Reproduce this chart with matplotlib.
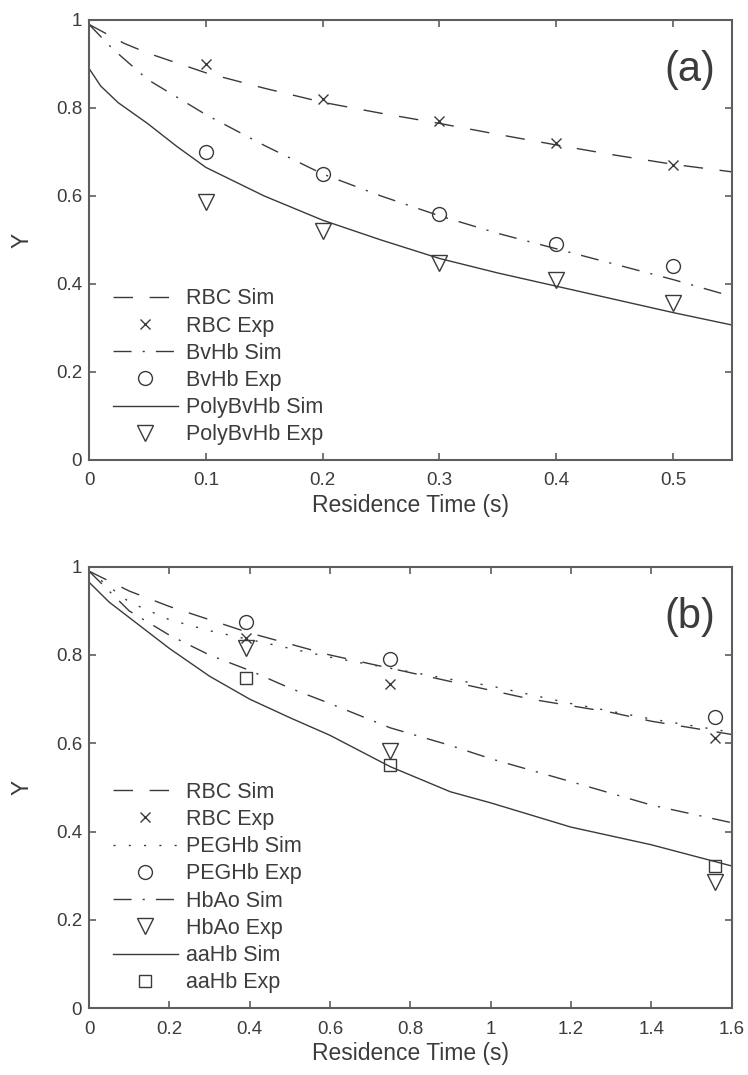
import matplotlib
matplotlib.use("Agg")
import matplotlib.pyplot as plt

plt.rcParams['font.family'] = ['Liberation Sans', 'DejaVu Sans']

INK = '#3a3a3a'
AXC = '#5e5e5e'
TXT = '#3c3c3c'

# ---- panel (a) ----
a_exp_t = [0.1, 0.2, 0.3, 0.4, 0.5]
a_rbc_exp = [0.90, 0.82, 0.77, 0.72, 0.67]
a_bvhb_exp = [0.70, 0.65, 0.56, 0.49, 0.44]
a_poly_exp = [0.587, 0.52, 0.447, 0.408, 0.356]

a_rbc_sim_t = [0, 0.03, 0.05, 0.1, 0.15, 0.2, 0.25, 0.3, 0.35, 0.4, 0.45, 0.5, 0.55]
a_rbc_sim = [0.99, 0.947, 0.925, 0.88, 0.845, 0.813, 0.788, 0.765, 0.74, 0.716, 0.693, 0.672, 0.655]

a_bvhb_sim_t = [0, 0.02, 0.05, 0.1, 0.15, 0.2, 0.25, 0.3, 0.35, 0.4, 0.45, 0.5, 0.55]
a_bvhb_sim = [0.99, 0.935, 0.865, 0.785, 0.715, 0.65, 0.60, 0.555, 0.515, 0.48, 0.445, 0.41, 0.372]

a_poly_sim_t = [0, 0.01, 0.025, 0.05, 0.075, 0.1, 0.15, 0.2, 0.25, 0.3, 0.35, 0.4, 0.45, 0.5, 0.55]
a_poly_sim = [0.89, 0.85, 0.812, 0.765, 0.713, 0.665, 0.60, 0.545, 0.50, 0.458, 0.425, 0.395, 0.365, 0.335, 0.307]

# ---- panel (b) ----
b_exp_t = [0.39, 0.75, 1.56]
b_rbc_exp = [0.838, 0.734, 0.611]
b_peg_exp = [0.875, 0.792, 0.66]
b_hbao_exp = [0.815, 0.583, 0.286]
b_aahb_exp = [0.747, 0.551, 0.322]

b_rbc_sim_t = [0, 0.1, 0.2, 0.3, 0.4, 0.5, 0.6, 0.7, 0.8, 0.9, 1.0, 1.1, 1.2, 1.3, 1.4, 1.5, 1.6]
b_rbc_sim = [0.99, 0.945, 0.91, 0.88, 0.85, 0.825, 0.80, 0.78, 0.76, 0.74, 0.72, 0.70, 0.685, 0.67, 0.65, 0.635, 0.62]

b_peg_sim_t = [0, 0.1, 0.2, 0.3, 0.4, 0.5, 0.6, 0.75, 0.9, 1.0, 1.2, 1.4, 1.6]
b_peg_sim = [0.99, 0.92, 0.88, 0.855, 0.835, 0.815, 0.795, 0.77, 0.745, 0.73, 0.69, 0.655, 0.625]

b_hbao_sim_t = [0, 0.1, 0.2, 0.3, 0.4, 0.5, 0.6, 0.75, 0.9, 1.0, 1.2, 1.4, 1.6]
b_hbao_sim = [0.99, 0.90, 0.845, 0.80, 0.765, 0.725, 0.69, 0.635, 0.595, 0.565, 0.513, 0.46, 0.42]

b_aahb_sim_t = [0, 0.05, 0.1, 0.2, 0.3, 0.4, 0.5, 0.6, 0.75, 0.9, 1.0, 1.2, 1.4, 1.6]
b_aahb_sim = [0.965, 0.92, 0.885, 0.815, 0.752, 0.70, 0.658, 0.618, 0.547, 0.49, 0.465, 0.41, 0.37, 0.322]

DASH = (0, (14, 12))
DASHDOT = (0, (13, 8, 1.5, 8))
DOT = (0, (1.5, 9.5))


def style_axes(ax, xmax, xticks, xticklabels, tag):
    ax.set_xlim(0, xmax)
    ax.set_ylim(0, 1)
    ax.set_xticks(xticks)
    ax.set_xticklabels(xticklabels)
    ax.set_yticks([0, 0.2, 0.4, 0.6, 0.8, 1])
    ax.set_yticklabels(['0', '0.2', '0.4', '0.6', '0.8', '1'])
    ax.tick_params(direction='in', top=True, right=True, length=5, width=1.2,
                   color=AXC, labelcolor=TXT, labelsize=13.5)
    ax.tick_params(axis='x', pad=9)
    ax.tick_params(axis='y', pad=5)
    for s in ax.spines.values():
        s.set_color(AXC)
        s.set_linewidth(1.5)
    ax.set_xlabel('Residence Time (s)', fontsize=16.5, color=TXT, labelpad=3)
    ax.set_ylabel('Y', fontsize=16.5, color=TXT, labelpad=16)
    ax.text(0.935, 0.886, tag, transform=ax.transAxes, fontsize=30, color=TXT,
            ha='center', va='center')


def add_legend(ax):
    ax.legend(loc='lower left', bbox_to_anchor=(0.0374, 0.033), frameon=False,
              fontsize=15.5, handlelength=3.0, handletextpad=0.37, labelspacing=0.29,
              borderpad=0, borderaxespad=0, labelcolor=TXT)


fig = plt.figure(figsize=(7.48, 10.75), dpi=100)

ax1 = fig.add_axes([0.119, 0.5721, 0.859, 0.4093])
ax1.plot(a_rbc_sim_t, a_rbc_sim, color=INK, lw=1.0, ls=DASH, label='RBC Sim')
ax1.plot(a_exp_t, a_rbc_exp, ls='none', marker='x', ms=7, mew=1.0, color=INK, label='RBC Exp')
ax1.plot(a_bvhb_sim_t, a_bvhb_sim, color=INK, lw=1.0, ls=DASHDOT, label='BvHb Sim')
ax1.plot(a_exp_t, a_bvhb_exp, ls='none', marker='o', ms=10, mew=1.0, mfc='none', mec=INK,
         label='BvHb Exp')
ax1.plot(a_poly_sim_t, a_poly_sim, color=INK, lw=1.0, ls='-', label='PolyBvHb Sim')
ax1.plot(a_exp_t, a_poly_exp, ls='none', marker='v', ms=11, mew=1.0, mfc='none', mec=INK,
         label='PolyBvHb Exp')
style_axes(ax1, 0.55, [0, 0.1, 0.2, 0.3, 0.4, 0.5], ['0', '0.1', '0.2', '0.3', '0.4', '0.5'], '(a)')
add_legend(ax1)

ax2 = fig.add_axes([0.119, 0.0623, 0.859, 0.4105])
ax2.plot(b_rbc_sim_t, b_rbc_sim, color=INK, lw=1.0, ls=DASH, label='RBC Sim')
ax2.plot(b_exp_t, b_rbc_exp, ls='none', marker='x', ms=7, mew=1.0, color=INK, label='RBC Exp')
ax2.plot(b_peg_sim_t, b_peg_sim, color=INK, lw=1.0, ls=DOT, label='PEGHb Sim')
ax2.plot(b_exp_t, b_peg_exp, ls='none', marker='o', ms=10, mew=1.0, mfc='none', mec=INK,
         label='PEGHb Exp')
ax2.plot(b_hbao_sim_t, b_hbao_sim, color=INK, lw=1.0, ls=DASHDOT, label='HbAo Sim')
ax2.plot(b_exp_t, b_hbao_exp, ls='none', marker='v', ms=11, mew=1.0, mfc='none', mec=INK,
         label='HbAo Exp')
ax2.plot(b_aahb_sim_t, b_aahb_sim, color=INK, lw=1.0, ls='-', label='aaHb Sim')
ax2.plot(b_exp_t, b_aahb_exp, ls='none', marker='s', ms=8, mew=1.0, mfc='none', mec=INK,
         label='aaHb Exp')
style_axes(ax2, 1.6, [0, 0.2, 0.4, 0.6, 0.8, 1.0, 1.2, 1.4, 1.6],
           ['0', '0.2', '0.4', '0.6', '0.8', '1', '1.2', '1.4', '1.6'], '(b)')
add_legend(ax2)

fig.savefig('out.png', dpi=100)
